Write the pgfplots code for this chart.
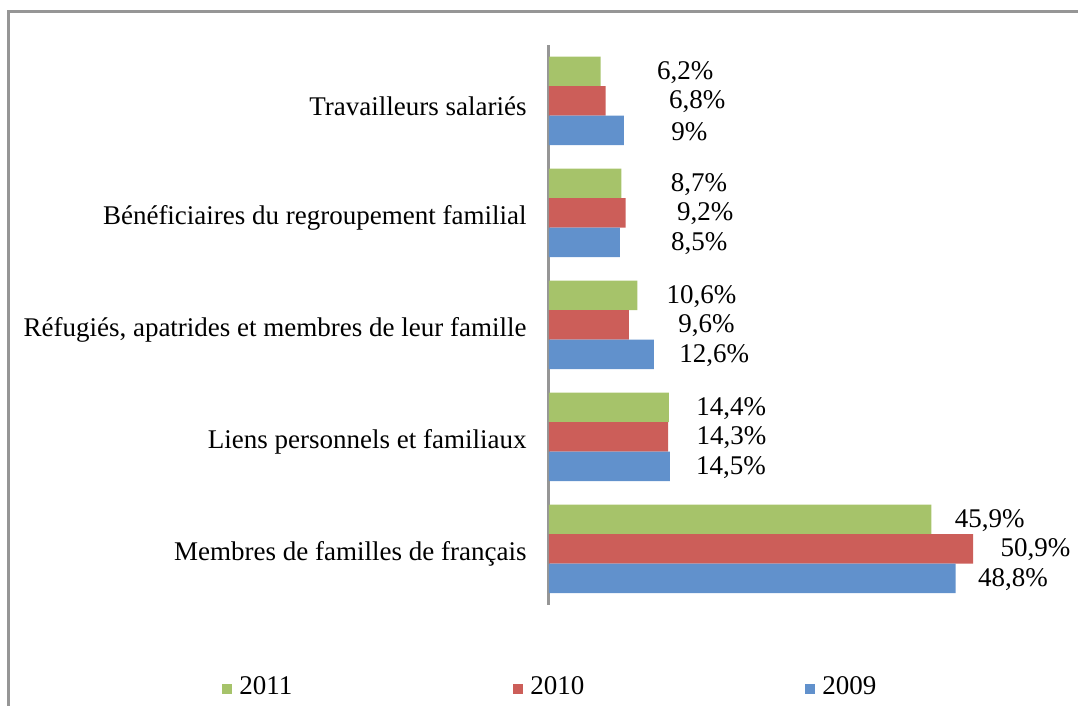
\documentclass[border=0pt]{standalone}
\usepackage{fontspec}
\setmainfont{Liberation Serif}
\usepackage{pgfplots}
\usepackage{pgfplotstable}
\pgfplotsset{compat=1.18}

\definecolor{c2011}{RGB}{166,195,106}
\definecolor{c2010}{RGB}{204,94,89}
\definecolor{c2009}{RGB}{97,145,204}
\definecolor{frame}{RGB}{150,150,150}

% y: 0 = Membres ... 4 = Travailleurs ; off = label gap in pt
\pgfplotstableread{
y x off
0 45.9 11.5
1 14.4 13.5
2 10.6 14.5
3 8.7 24.5
4 6.2 28
}\tabA
\pgfplotstableread{
y x off
0 50.9 13.5
1 14.3 14
2 9.6 24.5
3 9.2 25.5
4 6.8 31.5
}\tabB
\pgfplotstableread{
y x off
0 48.8 11
1 14.5 13
2 12.6 12.5
3 8.5 25.5
4 9 23.5
}\tabC

\newcommand\chartfont{\fontsize{13.5}{16}\selectfont}

\begin{document}
\begin{tikzpicture}[font=\chartfont]
\path[use as bounding box] (0,0) rectangle (539pt,353pt);
\draw[frame, line width=1.5pt] (4pt,0) -- (4pt,347pt) -- (539pt,347pt);
\begin{axis}[
    at={(274.5pt,50.5pt)}, anchor=south west,
    scale only axis,
    width=250pt, height=280pt,
    xbar, bar width=14.75pt,
    xmin=0, xmax=60,
    ymin=-0.5, ymax=4.5,
    axis x line=none,
    axis y line*=left,
    y axis line style={frame, line width=1.5pt},
    ytick={0,1,2,3,4},
    yticklabels={Membres de familles de français,
                 Liens personnels et familiaux,
                 {Réfugiés, apatrides et membres de leur famille},
                 Bénéficiaires du regroupement familial,
                 Travailleurs salariés},
    major tick length=0pt,
    yticklabel style={inner sep=0pt, xshift=-11pt, yshift=-2.5pt, font=\chartfont},
    /pgf/number format/assume math mode=true,
    nodes near coords={\pgfmathprintnumber[fixed,precision=1,use comma]{\pgfplotspointmeta}\%},
    visualization depends on={\thisrow{off} \as \lbloff},
    every node near coord/.append style={anchor=west, inner sep=0pt,
        xshift=\lbloff pt, yshift=-0.5pt, font=\chartfont, text=black},
    legend columns=3,
    legend image code/.code={\fill[#1] (0pt,-3.5pt) rectangle (5pt,1.5pt);},
    legend style={at={(-0.654,-0.146)}, anchor=west, draw=none, fill=none,
        inner sep=0pt, font=\chartfont,
        /tikz/every odd column/.style={column sep=1.5pt},
        /tikz/every even column/.style={column sep=108.5pt}},
]
\addplot[fill=c2011, draw=none, bar shift=14.75pt] table[x=x, y=y] {\tabA};
\addplot[fill=c2010, draw=none, bar shift=0pt] table[x=x, y=y] {\tabB};
\addplot[fill=c2009, draw=none, bar shift=-14.75pt] table[x=x, y=y] {\tabC};
\legend{2011, 2010, 2009}
\end{axis}
\end{tikzpicture}
\end{document}
